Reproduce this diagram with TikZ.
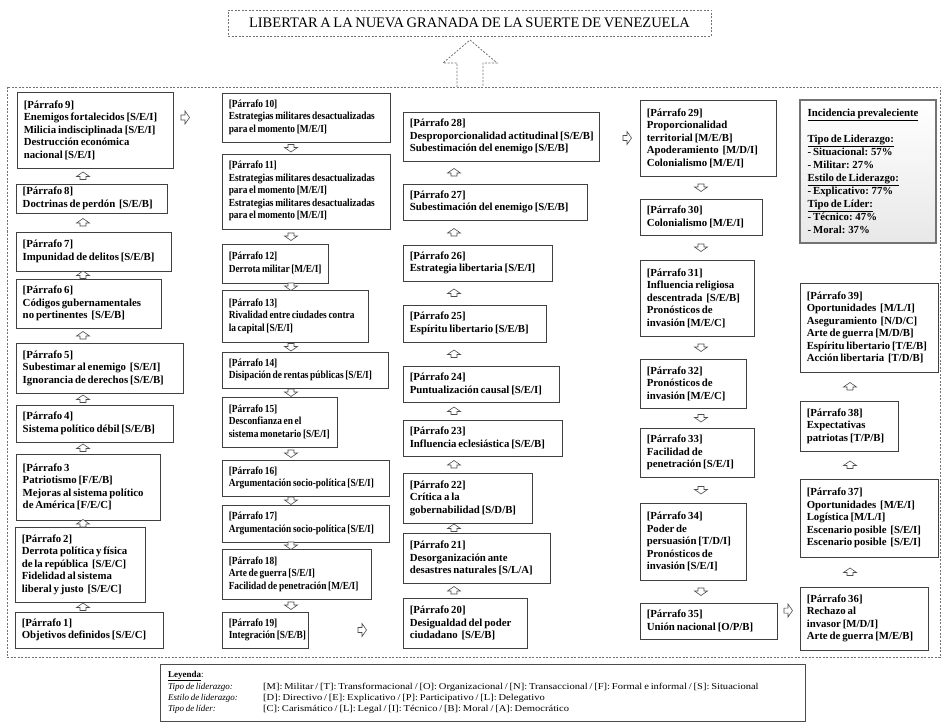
\documentclass[tikz,border=0pt]{standalone}
\usepackage{fontspec}
\setmainfont{Liberation Serif}[WordSpace=0.7]
\usepackage{graphicx}
\usetikzlibrary{calc}
\tikzset{
  pbox/.style={draw=black!75, line width=0.9pt, inner sep=0pt, fill=white},
  ptext/.style={font={\fontsize{10.8}{12.5}\selectfont\bfseries}, align=left, inner sep=0pt, anchor=west},
  incbox/.style={draw=black!55, line width=1.2pt, inner sep=0pt, top color=white, bottom color=black!9},
  flowarrow/.style={draw=black!70, line width=0.6pt, fill=white, line join=miter},
  framedash/.style={draw=black!55, line width=0.8pt, dash pattern=on 2pt off 1.5pt},
  legt/.style={font={\fontsize{9}{10}\selectfont}, inner sep=0pt, anchor=base west},
  upglyph/.pic={\draw[flowarrow] (0,-4) -- (6.5,0.5) -- (3,0.5) -- (3,3.5) -- (-3,3.5) -- (-3,0.5) -- (-6.5,0.5) -- cycle;},
  downglyph/.pic={\draw[flowarrow] (0,4) -- (6.5,-0.5) -- (3,-0.5) -- (3,-3.5) -- (-3,-3.5) -- (-3,-0.5) -- (-6.5,-0.5) -- cycle;},
  rightglyph/.pic={\draw[flowarrow] (-4,-2.5) -- (0,-2.5) -- (0,-6.5) -- (4.5,0) -- (0,6.5) -- (0,2.5) -- (-4,2.5) -- cycle;},
}
\newcommand{\pnode}[6]{%
  \pgfmathsetmacro{\pnW}{#4-#2}\pgfmathsetmacro{\pnH}{#5-#3}%
  \node[pbox, minimum width=\pnW pt, minimum height=\pnH pt] (#1) at ({(#2+#4)/2},{(#3+#5)/2}) {};
  \node[ptext] (#1t) at ([xshift=7pt]#1.west) {#6};}
% condensed text block (column 2)
\newcommand{\cstack}[1]{\scalebox{0.87}[1]{\begin{tabular}{@{}l@{}}#1\end{tabular}}}
\newcommand{\garrow}[4]{%
  \path ($(#2.south)!0.5!(#3.north)$) coordinate (tmpg);
  \pic at (tmpg -| #1) {#4};}
\begin{document}
\begin{tikzpicture}[x=1pt, y=-1pt]
\useasboundingbox (0,0) rectangle (943,722);
\fill[white] (0,0) rectangle (943,722);

% title
\node[framedash, inner sep=0pt, minimum width=483pt, minimum height=26pt,
      font={\fontsize{14.5}{16}\selectfont}] (title) at (469.5,23)
      {LIBERTAR A LA NUEVA GRANADA DE LA SUERTE DE VENEZUELA};
% outer frame
\node[framedash, inner sep=0pt, minimum width=933pt, minimum height=570pt] (frame) at (473.5,372) {};
% big dashed arrow from frame to title
\draw[framedash] (457,87) -- (457,63) -- (443,63) -- (470,40) -- (497,63) -- (483,63) -- (483,87);

% column coordinates
\coordinate (c1) at (83,0);
\coordinate (c2) at (291,0);
\coordinate (c3) at (454,0);
\coordinate (c4) at (701,0);
\coordinate (c5) at (850,0);

% column 1
\pnode{P9}{17}{92}{173}{168}{[Párrafo 9]\\Enemigos fortalecidos [S/E/I]\\Milicia indisciplinada [S/E/I]\\Destrucción económica\\nacional [S/E/I]}
\pnode{P8}{16}{184}{167}{213}{[Párrafo 8]\\Doctrinas de perdón\ \ [S/E/B]}
\pnode{P7}{16}{232}{171}{271}{[Párrafo 7]\\Impunidad de delitos [S/E/B]}
\pnode{P6}{16}{279}{161}{328}{[Párrafo 6]\\Códigos gubernamentales\\no pertinentes\ \ [S/E/B]}
\pnode{P5}{16}{343}{183}{393}{[Párrafo 5]\\Subestimar al enemigo\ \ [S/E/I]\\Ignorancia de derechos [S/E/B]}
\pnode{P4}{16}{405}{173}{442}{[Párrafo 4]\\Sistema político débil [S/E/B]}
\pnode{P3}{16}{454}{160}{520}{[Párrafo 3\\Patriotismo [F/E/B]\\Mejoras al sistema político\\de América [F/E/C]}
\pnode{P2}{15}{527}{145}{602}{[Párrafo 2]\\Derrota política y física\\de la república\ \ [S/E/C]\\Fidelidad al sistema\\liberal y justo\ \ [S/E/C]}
\pnode{P1}{15}{612}{163}{648}{[Párrafo 1]\\Objetivos definidos [S/E/C]}

% column 2
\pnode{P10}{222}{93}{390}{142}{\cstack{[Párrafo 10]\\Estrategias militares desactualizadas\\para el momento [M/E/I]}}
\pnode{P11}{222}{154}{390}{229}{\cstack{[Párrafo 11]\\Estrategias militares desactualizadas\\para el momento [M/E/I]\\Estrategias militares desactualizadas\\para el momento [M/E/I]}}
\pnode{P12}{222}{244}{328}{283}{\cstack{[Párrafo 12]\\Derrota militar [M/E/I]}}
\pnode{P13}{222}{290}{368}{342}{\cstack{[Párrafo 13]\\Rivalidad entre ciudades contra\\la capital [S/E/I]}}
\pnode{P14}{222}{352}{388}{388}{\cstack{[Párrafo 14]\\Disipación de rentas públicas [S/E/I]}}
\pnode{P15}{222}{397}{337}{447}{\cstack{[Párrafo 15]\\Desconfianza en el\\sistema monetario [S/E/I]}}
\pnode{P16}{222}{460}{389}{496}{\cstack{[Párrafo 16]\\Argumentación socio-política [S/E/I]}}
\pnode{P17}{222}{505}{389}{542}{\cstack{[Párrafo 17]\\Argumentación socio-política [S/E/I]}}
\pnode{P18}{222}{549}{371}{599}{\cstack{[Párrafo 18]\\Arte de guerra [S/E/I]\\Facilidad de penetración [M/E/I]}}
\pnode{P19}{222}{612}{308}{648}{\cstack{[Párrafo 19]\\Integración [S/E/B]}}

% column 3
\pnode{P28}{403}{112}{599}{161}{[Párrafo 28]\\Desproporcionalidad actitudinal [S/E/B]\\Subestimación del enemigo [S/E/B]}
\pnode{P27}{403}{184}{587}{220}{[Párrafo 27]\\Subestimación del enemigo [S/E/B]}
\pnode{P26}{403}{245}{552}{281}{[Párrafo 26]\\Estrategia libertaria [S/E/I]}
\pnode{P25}{403}{305}{546}{342}{[Párrafo 25]\\Espíritu libertario [S/E/B]}
\pnode{P24}{403}{366}{559}{402}{[Párrafo 24]\\Puntualización causal [S/E/I]}
\pnode{P23}{403}{420}{562}{456}{[Párrafo 23]\\Influencia eclesiástica [S/E/B]}
\pnode{P22}{403}{473}{532}{523}{[Párrafo 22]\\Crítica a la\\gobernabilidad [S/D/B]}
\pnode{P21}{403}{533}{550}{583}{[Párrafo 21]\\Desorganización ante\\desastres naturales [S/L/A]}
\pnode{P20}{403}{598}{527}{648}{[Párrafo 20]\\Desigualdad del poder\\ciudadano\ \ [S/E/B]}

% column 4
\pnode{P29}{640}{100}{776}{176}{[Párrafo 29]\\Proporcionalidad\\territorial [M/E/B]\\Apoderamiento\ \ [M/D/I]\\Colonialismo [M/E/I]}
\pnode{P30}{640}{199}{762}{235}{[Párrafo 30]\\Colonialismo [M/E/I]}
\pnode{P31}{640}{260}{754}{336}{[Párrafo 31]\\Influencia religiosa\\descentrada\ \ [S/E/B]\\Pronósticos de\\invasión [M/E/C]}
\pnode{P32}{640}{359}{746}{408}{[Párrafo 32]\\Pronósticos de\\invasión [M/E/C]}
\pnode{P33}{640}{428}{754}{477}{[Párrafo 33]\\Facilidad de\\penetración [S/E/I]}
\pnode{P34}{640}{503}{746}{580}{[Párrafo 34]\\Poder de\\persuasión [T/D/I]\\Pronósticos de\\invasión [S/E/I]}
\pnode{P35}{640}{603}{777}{639}{[Párrafo 35]\\Unión nacional [O/P/B]}

% column 5
\node[incbox, minimum width=136pt, minimum height=143pt] (inc) at (868,171.5) {};
\node[ptext, font={\fontsize{10.8}{13}\selectfont\bfseries}] (inct) at ([xshift=8pt]inc.west)
  {\underline{Incidencia prevaleciente}\\ \mbox{}\\\underline{Tipo de Liderazgo:}\\- Situacional: 57\%\\- Militar: 27\%\\\underline{Estilo de Liderazgo:}\\- Explicativo: 77\%\\\underline{Tipo de Líder:}\\- Técnico: 47\%\\- Moral: 37\%};
\pnode{P39}{800}{283}{938}{372}{[Párrafo 39]\\Oportunidades\ \ [M/L/I]\\Aseguramiento\ \ [N/D/C]\\Arte de guerra [M/D/B]\\Espíritu libertario [T/E/B]\\Acción libertaria\ \ [T/D/B]}
\pnode{P38}{800}{401}{898}{451}{[Párrafo 38]\\Expectativas\\patriotas [T/P/B]}
\pnode{P37}{800}{479}{938}{557}{[Párrafo 37]\\Oportunidades\ \ [M/E/I]\\Logística [M/L/I]\\Escenario posible\ \ [S/E/I]\\Escenario posible\ \ [S/E/I]}
\pnode{P36}{800}{587}{928}{650}{[Párrafo 36]\\Rechazo al\\invasor [M/D/I]\\Arte de guerra [M/E/B]}

% flow arrows column 1 (upwards)
\garrow{c1}{P2}{P1}{upglyph}
\garrow{c1}{P3}{P2}{upglyph}
\garrow{c1}{P4}{P3}{upglyph}
\garrow{c1}{P5}{P4}{upglyph}
\garrow{c1}{P6}{P5}{upglyph}
\garrow{c1}{P7}{P6}{upglyph}
\garrow{c1}{P8}{P7}{upglyph}
\garrow{c1}{P9}{P8}{upglyph}
% column 2 (downwards)
\garrow{c2}{P10}{P11}{downglyph}
\garrow{c2}{P11}{P12}{downglyph}
\garrow{c2}{P12}{P13}{downglyph}
\garrow{c2}{P13}{P14}{downglyph}
\garrow{c2}{P14}{P15}{downglyph}
\garrow{c2}{P15}{P16}{downglyph}
\garrow{c2}{P16}{P17}{downglyph}
\garrow{c2}{P17}{P18}{downglyph}
\garrow{c2}{P18}{P19}{downglyph}
% column 3 (upwards)
\garrow{c3}{P21}{P20}{upglyph}
\garrow{c3}{P22}{P21}{upglyph}
\garrow{c3}{P23}{P22}{upglyph}
\garrow{c3}{P24}{P23}{upglyph}
\garrow{c3}{P25}{P24}{upglyph}
\garrow{c3}{P26}{P25}{upglyph}
\garrow{c3}{P27}{P26}{upglyph}
\garrow{c3}{P28}{P27}{upglyph}
% column 4 (downwards)
\garrow{c4}{P29}{P30}{downglyph}
\garrow{c4}{P30}{P31}{downglyph}
\garrow{c4}{P31}{P32}{downglyph}
\garrow{c4}{P32}{P33}{downglyph}
\garrow{c4}{P33}{P34}{downglyph}
\garrow{c4}{P34}{P35}{downglyph}
% column 5 (upwards)
\garrow{c5}{P37}{P36}{upglyph}
\garrow{c5}{P38}{P37}{upglyph}
\garrow{c5}{P39}{P38}{upglyph}

% arrows between columns
\coordinate (r1) at (185,0);
\coordinate (r2) at (362,0);
\coordinate (r3) at (627,0);
\coordinate (r4) at (788,0);
\coordinate (q4) at ([yshift=-8pt]P35.north);
\pic at (P10.west -| r1) {rightglyph};
\pic at (P19.east -| r2) {rightglyph};
\pic at (P29.west -| r3) {rightglyph};
\pic at (q4 -| r4) {rightglyph};

% legend
\node[draw=black!70, line width=0.9pt, inner sep=0pt, minimum width=645pt, minimum height=57pt] (legend) at (482.5,692.5) {};
\node[legt] (lgh) at (168,677) {\textbf{\underline{Leyenda}}:};
\node[legt] (lg1l) at (168,689) {\textit{Tipo de liderazgo:}};
\node[legt] (lg1v) at (263,689) {\scalebox{1.17}[1]{[M]: Militar / [T]: Transformacional / [O]: Organizacional / [N]: Transaccional / [F]: Formal e informal / [S]: Situacional}};
\node[legt] (lg2l) at (168,700) {\textit{Estilo de liderazgo:}};
\node[legt] (lg2v) at (263,700) {\scalebox{1.17}[1]{[D]: Directivo / [E]: Explicativo / [P]: Participativo / [L]: Delegativo}};
\node[legt] (lg3l) at (168,711) {\textit{Tipo de líder:}};
\node[legt] (lg3v) at (263,711) {\scalebox{1.17}[1]{[C]: Carismático / [L]: Legal / [I]: Técnico / [B]: Moral / [A]: Democrático}};
\end{tikzpicture}
\end{document}
